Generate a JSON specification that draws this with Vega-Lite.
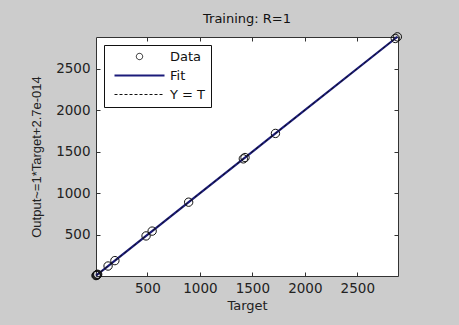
{
  "$schema": "https://vega.github.io/schema/vega-lite/v6.json",
  "width": 302,
  "height": 239,
  "autosize": {"type": "none"},
  "padding": {"left": 96, "top": 37, "right": 61, "bottom": 49},
  "background": "#cccccc",
  "title": {"text": "Training: R=1", "font": "DejaVu Sans", "fontSize": 13, "fontWeight": "normal", "color": "#111111", "offset": 5},
  "config": {
    "view": {"fill": "white", "stroke": null},
    "axis": {
      "grid": false,
      "domainColor": "#333333",
      "tickColor": "#333333",
      "tickSize": -4,
      "format": "d",
      "labelFont": "DejaVu Sans",
      "labelFontSize": 13.5,
      "labelColor": "#222222",
      "titleFont": "DejaVu Sans",
      "titleFontSize": 13,
      "titleFontWeight": "normal",
      "titleColor": "#222222"
    },
    "legend": {
      "orient": "top-left",
      "offset": 8,
      "fillColor": "white",
      "strokeColor": "#111111",
      "padding": 5,
      "rowPadding": 5,
      "labelFont": "DejaVu Sans",
      "labelFontSize": 13,
      "labelColor": "#111111",
      "symbolSize": 100,
      "symbolOffset": 24,
      "labelOffset": 24
    }
  },
  "data": {
    "values": [
      {"Target": 10, "Output": 10},
      {"Target": 14, "Output": 14},
      {"Target": 18, "Output": 18},
      {"Target": 22, "Output": 22},
      {"Target": 26, "Output": 26},
      {"Target": 125, "Output": 125},
      {"Target": 190, "Output": 190},
      {"Target": 487, "Output": 487},
      {"Target": 545, "Output": 545},
      {"Target": 893, "Output": 893},
      {"Target": 1414, "Output": 1414},
      {"Target": 1430, "Output": 1430},
      {"Target": 1720, "Output": 1720},
      {"Target": 2862, "Output": 2862},
      {"Target": 2882, "Output": 2882}
    ]
  },
  "layer": [
    {
      "mark": {"type": "line", "strokeWidth": 2.2},
      "encoding": {
        "x": {"field": "Target", "type": "quantitative", "scale": {"domain": [10, 2888], "nice": false, "zero": false},
              "axis": {"orient": "bottom", "values": [500, 1000, 1500, 2000, 2500], "format": "d", "title": "Target", "labelPadding": 9, "titlePadding": 5}},
        "y": {"field": "Output", "type": "quantitative", "scale": {"domain": [5, 2880], "nice": false, "zero": false},
              "axis": {"orient": "left", "values": [500, 1000, 1500, 2000, 2500], "format": "d", "title": "Output~=1*Target+2.7e-014", "titleFont": "Liberation Sans", "titleFontSize": 13, "labelPadding": 10, "titlePadding": 12}},
        "color": {"datum": "Fit", "type": "nominal",
                  "scale": {"domain": ["Data", "Fit", "Y = T"], "range": ["#111111", "#1b1b7a", "#111111"]},
                  "legend": {
                    "title": null,
                    "encode": {
                      "symbols": {
                        "update": {
                          "shape": {"signal": "datum.value === 'Data' ? 'circle' : 'M-5,0H5'"},
                          "size": {"signal": "datum.value === 'Data' ? 40 : 100"},
                          "strokeDash": {"signal": "datum.value === 'Y = T' ? [3, 2] : [1, 0]"},
                          "strokeWidth": {"signal": "datum.value === 'Fit' ? 2 : 1"},
                          "fill": {"value": "transparent"},
                          "opacity": {"value": 1}
                        }
                      }
                    }
                  }}
      }
    },
    {
      "mark": {"type": "line", "strokeWidth": 1, "strokeDash": [3, 3]},
      "encoding": {
        "x": {"field": "Target", "type": "quantitative",
              "axis": {"orient": "top", "values": [500, 1000, 1500, 2000, 2500], "labels": false, "title": null}},
        "y": {"field": "Output", "type": "quantitative",
              "axis": {"orient": "right", "values": [500, 1000, 1500, 2000, 2500], "labels": false, "title": null}},
        "color": {"datum": "Y = T", "type": "nominal"}
      }
    },
    {
      "mark": {"type": "point", "shape": "circle", "filled": false, "size": 70, "strokeWidth": 1, "opacity": 1},
      "encoding": {
        "x": {"field": "Target", "type": "quantitative", "axis": null},
        "y": {"field": "Output", "type": "quantitative", "axis": null},
        "color": {"datum": "Data", "type": "nominal"}
      }
    }
  ],
  "resolve": {"axis": {"x": "independent", "y": "independent"}}
}
